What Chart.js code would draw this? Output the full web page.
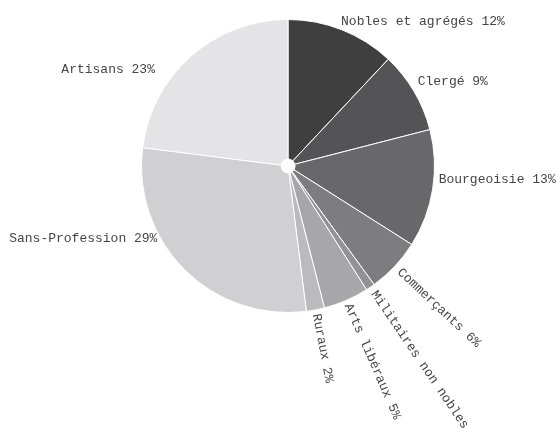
<!DOCTYPE html>
<html>
<head>
<meta charset="utf-8">
<script src="https://cdn.jsdelivr.net/npm/chart.js"></script>
<style>
html,body{margin:0;padding:0;background:#fff;}
#wrap{width:556px;height:429px;position:relative;}
</style>
</head>
<body>
<div id="wrap"><canvas id="c" width="556" height="429"></canvas></div>
<script>
const categories = ["Nobles et agrégés", "Clergé", "Bourgeoisie", "Commerçants", "Militaires non nobles", "Arts libéraux", "Ruraux", "Sans-Profession", "Artisans"];
const shares = [12, 9, 13, 6, 1, 5, 2, 29, 23];
const sliceColors = ["#3f3f40", "#545456", "#68686b", "#7d7d80", "#929295", "#a7a7aa", "#bbbbbe", "#d0d0d3", "#e4e4e6"];

const labelLayout = [
  {mode: "h", align: "left", pad: 3, dx: -2, dy: -5},
  {mode: "h", align: "left", pad: 3, dx: 1, dy: -8},
  {mode: "h", align: "left", pad: 3, dx: 3, dy: -10},
  {mode: "r", pad: 6},
  {mode: "r", pad: 6},
  {mode: "r", pad: 4},
  {mode: "r", pad: 4},
  {mode: "h", align: "center", pad: 3, dx: -99, dy: -33},
  {mode: "h", align: "center", pad: 3, dx: -81, dy: 16}
];

const outsideLabels = {
  id: "outsideLabels",
  afterDatasetsDraw(chart) {
    const ctx = chart.ctx;
    const meta = chart.getDatasetMeta(0);
    ctx.save();
    ctx.font = "13px 'Liberation Mono', 'DejaVu Sans Mono', monospace";
    ctx.fillStyle = "#454545";
    ctx.textBaseline = "middle";
    meta.data.forEach((arc, i) => {
      const p = arc.getProps(["x", "y", "startAngle", "endAngle", "outerRadius"], true);
      const mid = (p.startAngle + p.endAngle) / 2;
      const L = labelLayout[i];
      const r = p.outerRadius + L.pad;
      const ax = p.x + Math.cos(mid) * r;
      const ay = p.y + Math.sin(mid) * r;
      const text = categories[i] + " " + shares[i] + "%";
      if (L.mode === "r") {
        ctx.save();
        ctx.translate(ax, ay);
        ctx.rotate(mid);
        ctx.textAlign = "left";
        ctx.fillText(text, 0, 0);
        ctx.restore();
      } else {
        ctx.textAlign = L.align;
        ctx.fillText(text, ax + L.dx, ay + L.dy);
      }
    });
    ctx.restore();
  }
};

new Chart(document.getElementById("c"), {
  type: "doughnut",
  data: {
    labels: categories,
    datasets: [{
      data: shares,
      backgroundColor: sliceColors,
      borderColor: "#ffffff",
      borderWidth: 1
    }]
  },
  options: {
    responsive: false,
    animation: false,
    cutout: 7,
    layout: {padding: {top: 19, bottom: 116, left: 100, right: 80}},
    plugins: {legend: {display: false}, tooltip: {enabled: false}}
  },
  plugins: [outsideLabels]
});
</script>
</body>
</html>
